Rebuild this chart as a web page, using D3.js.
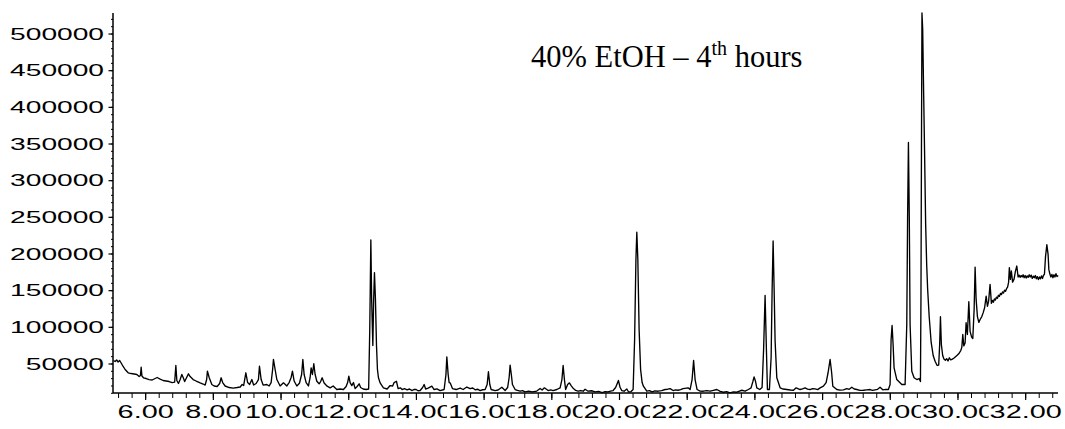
<!DOCTYPE html>
<html>
<head>
<meta charset="utf-8">
<script src="https://cdn.jsdelivr.net/npm/d3@7"></script>
<style>
  html, body { margin: 0; padding: 0; background: #fff; }
  svg { display: block; }
</style>
</head>
<body>
<svg id="chart" width="1065" height="429"></svg>
<script>
// Total ion chromatogram, retention time (min) vs abundance, split by time window.
const trace0512 = [
  [5.064,54100],[5.114,52700],[5.158,54800],[5.202,52000],[5.247,54100],[5.291,50700],
  [5.350,45900],[5.409,41800],[5.498,37300],[5.586,36300],[5.675,35700],[5.755,35000],
  [5.823,32200],[5.861,33600],[5.882,44900],[5.905,32900],[5.950,30500],[6.030,29500],
  [6.118,28100],[6.207,27500],[6.295,29500],[6.355,30900],[6.443,28800],[6.532,26800],
  [6.621,26100],[6.709,25400],[6.798,24000],[6.872,24700],[6.907,47300],[6.936,26800],
  [6.984,22700],[7.034,28100],[7.084,35000],[7.123,30900],[7.167,25400],[7.226,30900],
  [7.279,35900],[7.329,32200],[7.418,28100],[7.507,26100],[7.625,23600],[7.713,22000],
  [7.773,20600],[7.817,28100],[7.840,39500],[7.891,30900],[7.970,21300],[8.038,19300],
  [8.127,18600],[8.201,22700],[8.245,30500],[8.290,24000],[8.363,19300],[8.482,17200],
  [8.600,16500],[8.718,17200],[8.807,17900],[8.866,21300],[8.910,19900],[8.975,37300],
  [9.028,24000],[9.087,21300],[9.152,28100],[9.205,20600],[9.279,22700],[9.347,28100],
  [9.377,46300],[9.427,28100],[9.486,20600],[9.595,21300],[9.663,19300],[9.722,24000],
  [9.766,41800],[9.790,55500],[9.840,41800],[9.891,28100],[9.988,19300],[10.086,23600],
  [10.186,19300],[10.254,24000],[10.313,30900],[10.352,39500],[10.402,26100],[10.481,19300],
  [10.558,23000],[10.623,35000],[10.659,55500],[10.697,35000],[10.756,24000],[10.824,19300],
  [10.874,30900],[10.904,44100],[10.942,35000],[10.983,49600],[11.022,35000],[11.072,25800],
  [11.140,22300],[11.185,25400],[11.229,30500],[11.288,23400],[11.377,19000],[11.465,16800],
  [11.554,19300],[11.663,14500],[11.761,15200],[11.858,14500],[11.938,18600],[11.982,24000]
];

const trace1220 = [
  [12.018,32600],[12.056,24000],[12.106,19900],[12.154,24000],[12.204,15800],[12.263,18600],
  [12.322,22300],[12.366,17200],[12.440,15200],[12.529,14500],[12.603,15200],[12.636,96400],
  [12.668,218400],[12.692,137400],[12.727,74600],[12.751,137400],[12.775,173900],[12.804,137400],
  [12.834,76000],[12.863,41800],[12.893,30500],[12.942,23600],[13.040,16800],[13.149,15200],
  [13.238,19900],[13.312,19300],[13.356,24000],[13.424,25800],[13.474,15800],[13.540,16800],
  [13.592,14500],[13.660,15600],[13.740,14100],[13.810,15200],[13.888,13100],[13.950,14800],
  [14.006,14500],[14.060,12800],[14.124,13100],[14.198,17200],[14.243,21300],
  [14.287,15200],[14.361,16500],[14.470,19000],[14.538,14500],[14.620,15400],[14.715,13100],[14.833,14500],
  [14.887,35000],[14.913,59100],[14.952,35000],[14.981,24000],[15.011,23600],[15.079,15800],
  [15.188,14500],[15.306,16500],[15.395,14500],[15.504,17900],[15.601,15800],[15.680,16600],[15.749,14100],
  [15.820,14900],[15.897,13100],[15.970,14200],[16.044,14500],[16.104,21300],[16.142,38700],[16.183,21300],[16.222,14500],
  [16.340,13100],[16.428,13800],[16.538,17600],[16.635,13100],[16.709,17200],[16.754,30900],
  [16.783,47700],[16.822,33600],[16.851,21300],[16.931,14500],[17.000,13200],[17.078,12200],[17.150,13000],[17.226,11300],
  [17.330,12300],[17.433,11300],[17.571,12400],[17.669,15800],[17.728,13800],[17.796,16800],[17.905,13100],
  [17.980,14000],[18.053,13100],[18.162,14500],[18.260,16800],[18.313,28100],[18.349,47300],[18.387,28100],
  [18.423,14500],[18.482,21300],[18.535,23600],[18.585,19900],[18.653,15800],[18.720,13200],[18.792,12200],
  [18.870,13100],[18.940,12200],[18.998,14900],[19.087,12200],[19.190,12800],[19.294,11300],[19.400,11900],[19.501,10400],
  [19.590,11600],[19.678,11300],[19.750,12400],
  [19.826,13100],[19.900,17200],[19.983,26800],[20.033,17200],[20.083,13100],[20.151,12200],
  [20.231,15200],[20.284,11100],[20.358,11700],[20.417,14500],[20.461,82800],[20.500,192100],
  [20.526,229000],[20.556,192100],[20.594,96400],[20.638,41800],[20.683,24000],[20.721,19000],
  [20.821,12200],[20.900,12900],[20.978,11300]
];

const trace2128 = [
  [21.060,12600],[21.155,12200],[21.260,13100],[21.362,14500],[21.440,14900],[21.510,15800],[21.598,13100],
  [21.670,14000],[21.746,13500],[21.820,14300],[21.893,15800],
  [22.041,16800],[22.100,14500],[22.159,28100],[22.204,54100],[22.248,28100],[22.307,14500],
  [22.395,12400],[22.493,12200],[22.594,13100],[22.692,12200],[22.790,13300],[22.890,14500],[22.990,11900],[23.083,10800],
  [23.180,11600],[23.282,10000],[23.380,11300],[23.480,10800],[23.560,12300],[23.627,13500],[23.725,12200],[23.823,14500],[23.902,16800],
  [23.955,25400],[23.991,31800],[24.035,25400],[24.071,16800],[24.159,14500],[24.227,17200],
  [24.272,69100],[24.316,142900],[24.355,69100],[24.385,14500],[24.444,14500],[24.494,58200],
  [24.524,151100],[24.553,217000],[24.583,151100],[24.612,80500],[24.662,30500],[24.760,16800],
  [24.849,15200],[24.957,14500],[25.060,13800],[25.154,13500],[25.233,16800],[25.351,14500],[25.420,15300],[25.499,16800],
  [25.570,15000],[25.646,14500],[25.720,15800],[25.794,15400],[25.870,14400],[25.941,16800],[26.039,19000],[26.119,24000],[26.178,37700],
  [26.237,55500],[26.282,37700],[26.317,19000],[26.435,14500],[26.530,13600],[26.631,14100],[26.729,15800],
  [26.800,14800],[26.877,17600],[26.950,15200],[27.025,14500],[27.120,13400],[27.220,13500],[27.320,14100],[27.418,14500],
  [27.490,13300],[27.566,14100],[27.640,14800],[27.713,17600],
  [27.793,14100],[27.880,14700],[27.959,14500]
];

const trace2833 = [
  [28.009,21300],[28.039,82800],[28.068,101900],[28.098,76000],[28.127,44100],[28.207,28100],
  [28.355,21300],[28.453,21300],[28.502,103300],[28.526,246400],[28.551,351500],[28.577,246400],
  [28.600,103300],[28.650,39500],[28.718,30500],[28.798,28100],[28.866,29500],[28.906,25400],
  [28.921,137400],[28.936,342300],[28.951,528000],[28.972,506200],[29.001,417500],[29.031,328700],
  [29.060,239900],[29.090,185200],[29.119,151100],[29.164,114200],[29.223,78700],[29.282,60900],
  [29.341,52700],[29.400,47300],[29.445,47900],[29.474,75900],[29.497,113800],[29.524,75900],
  [29.563,60900],[29.600,56000],[29.640,54500],[29.680,56500],[29.720,53500],[29.760,57800],
  [29.800,55000],[29.850,56000],[29.900,57500],[29.950,59500],[30.000,61500],[30.050,64000],
  [30.100,68000],[30.128,72000],[30.157,89600],[30.187,74000],[30.225,78000],[30.255,105600],
  [30.293,89600],[30.335,134300],[30.373,93700],[30.418,86000],[30.453,84000],[30.492,123800],
  [30.521,181500],[30.551,137400],[30.589,114000],[30.631,106000],[30.669,110000],[30.719,114000],
  [30.758,119000],[30.802,126000],[30.847,141900],[30.885,128000],[30.920,135000],[30.963,157900],
  [31.002,132000],[31.030,136000],[31.060,133500],[31.090,138000],[31.120,136500],[31.150,140500],
  [31.180,139000],[31.210,143000],[31.240,141500],[31.270,145500],[31.300,144000],[31.330,147500],
  [31.360,146000],[31.390,150000],[31.420,148500],[31.450,152000],[31.480,154000],[31.510,160600],
  [31.533,180700],[31.563,164700],[31.592,176100],[31.628,161000],[31.672,165000],[31.711,175700],
  [31.753,182900],[31.791,168000],[31.820,170500],[31.850,167500],[31.880,170000],[31.910,168000],
  [31.940,171000],[31.970,167000],[32.000,170000],[32.030,166500],[32.060,169500],[32.090,167500],
  [32.120,171000],[32.150,168000],[32.180,170500],[32.210,166000],[32.240,169000],[32.270,167000],
  [32.300,170000],[32.330,165500],[32.360,168500],[32.390,164500],[32.420,168000],[32.450,165500],
  [32.480,169500],[32.510,166000],[32.540,170000],[32.570,172000],[32.600,195000],[32.640,212000],
  [32.677,198900],[32.700,178000],[32.730,172000],[32.760,168000],[32.790,171500],[32.820,167000],
  [32.850,171000],[32.880,168000],[32.910,172500],[32.940,168500],[32.975,170000]
];

// Axis ticks
const yMajorTicks = [50000,100000,150000,200000,250000,300000,350000,400000,450000,500000];
const xMajorTicks = [6,8,10,12,14,16,18,20,22,24,26,28,30,32];
const xTickLabels = ["6.00","8.00","10.00","12.00","14.00","16.00","18.00","20.00",
                     "22.00","24.00","26.00","28.00","30.00","32.00"];

const titleMain = "40% EtOH \u2013 4";
const titleSup = "th";
const titleTail = " hours";

const signal = [...trace0512, ...trace1220, ...trace2128, ...trace2833];

const svg = d3.select("#chart");
const plotLeft = 113, plotRight = 1058, plotTop = 13, plotBottom = 393;

const x = d3.scaleLinear().domain([5.05, 32.97]).range([plotLeft, plotRight]);
const y = d3.scaleLinear().domain([9750, 528000]).range([plotBottom, plotTop]);

const labelFont = "'Liberation Sans', Arial, Helvetica, sans-serif";

// minor tick positions
const yMinorTicks = d3.range(10000, 528001, 10000);
const xMinorTicks = d3.range(5.2, 32.81, 0.4).map(v => +v.toFixed(2));

// y axis
const gy = svg.append("g").attr("transform", `translate(${plotLeft},0)`);
gy.append("g").call(d3.axisLeft(y).tickValues(yMinorTicks).tickSize(2).tickFormat(""))
  .call(g => g.select(".domain").remove())
  .selectAll("line").attr("stroke", "#000").attr("stroke-width", 1);
gy.append("g").call(d3.axisLeft(y).tickValues(yMajorTicks).tickSize(4.5).tickFormat(d3.format("d")))
  .call(g => g.select(".domain").remove())
  .call(g => g.selectAll("line").attr("stroke", "#000").attr("stroke-width", 1.2))
  .call(g => g.selectAll("text")
    .attr("x", 0).attr("dy", null)
    .attr("y", 5.8)
    .attr("text-anchor", "end")
    .attr("transform", "translate(-9,0) scale(1.76,1)")
    .attr("font-family", labelFont).attr("font-size", 16).attr("fill", "#000"));
gy.append("line").attr("x1", 0).attr("x2", 0).attr("y1", plotTop).attr("y2", plotBottom)
  .attr("stroke", "#000").attr("stroke-width", 1.5);

// x axis
const gx = svg.append("g").attr("transform", `translate(0,${plotBottom})`);
gx.append("g").call(d3.axisBottom(x).tickValues(xMinorTicks).tickSize(5).tickFormat(""))
  .call(g => g.select(".domain").remove())
  .selectAll("line").attr("stroke", "#000").attr("stroke-width", 1);
gx.append("g").call(d3.axisBottom(x).tickValues(xMajorTicks).tickSize(7)
    .tickFormat((d, i) => xTickLabels[i]))
  .call(g => g.select(".domain").remove())
  .call(g => g.selectAll("line").attr("stroke", "#000").attr("stroke-width", 1.2))
  .call(g => g.selectAll(".tick").each(function () {
    const t = d3.select(this);
    const txt = t.select("text")
      .attr("y", 25).attr("dy", null)
      .attr("text-anchor", "middle")
      .attr("transform", "scale(1.56,1)")
      .attr("font-family", labelFont).attr("font-size", 18.5).attr("fill", "#000");
    const bb = txt.node().getBBox();
    t.insert("rect", "text")
      .attr("x", bb.x * 1.56 - 1).attr("y", 10)
      .attr("width", bb.width * 1.56 + 1).attr("height", 20)
      .attr("fill", "#fff");
  }));
gx.append("line").attr("x1", plotLeft).attr("x2", plotRight).attr("y1", 0).attr("y2", 0)
  .attr("stroke", "#000").attr("stroke-width", 1.5);

// chromatogram trace
const line = d3.line().x(d => x(d[0])).y(d => y(d[1]));
svg.append("path").datum(signal)
  .attr("d", line)
  .attr("fill", "none")
  .attr("stroke", "#000")
  .attr("stroke-width", 1.35)
  .attr("stroke-linejoin", "round");

// title
const title = svg.append("text")
  .attr("x", 531).attr("y", 67)
  .attr("font-family", "'Liberation Serif', 'Times New Roman', serif")
  .attr("font-size", 30.5).attr("fill", "#000");
title.append("tspan").text(titleMain);
title.append("tspan").attr("font-size", 20).attr("dy", -12).text(titleSup);
title.append("tspan").attr("dy", 12).text(titleTail);
</script>
</body>
</html>
